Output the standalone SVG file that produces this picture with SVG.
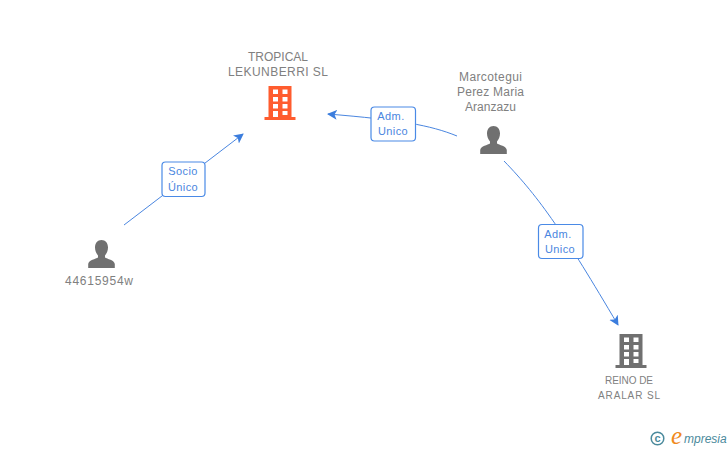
<svg xmlns="http://www.w3.org/2000/svg" width="728" height="450" viewBox="0 0 728 450">
<style>
text{font-family:"Liberation Sans",Arial,sans-serif}
.n{font-size:12px;fill:#808080;text-anchor:middle}
.r{font-size:10px}
.l{font-size:11px;fill:#4a86e0;text-anchor:middle;letter-spacing:.4px}
.c{fill:none;stroke:#4a86e0;stroke-width:1}
.b{fill:#fff;stroke:#4a8ae6;stroke-width:1.200}
</style>
<defs>
<marker id="a" markerUnits="userSpaceOnUse" markerWidth="12" markerHeight="12" refX="9" refY="5" orient="auto"><path d="M0 0L10 5L0 10L2.500 5Z" fill="#3b7ddd"/></marker>
<symbol id="person" width="28" height="28" viewBox="0 0 28 28"><path d="M14 0c4 0 6.500 3 6.500 7.500c0 3-1.300 6-3 8v2c2 1.500 9.500 2.500 9.800 6.500v4H.7v-4c.3-4 7.800-5 9.800-6.500v-2c-1.700-2-3-5-3-8C7.500 3 10 0 14 0Z" fill="#707070"/></symbol>
<symbol id="building" width="32" height="34" viewBox="0 0 32 34"><path fill-rule="evenodd" d="M4.500 0H27.500V31H31.500V34H.5V31H4.500ZM9 3.500V8H14V3.500ZM18.500 3.500V8H23.500V3.500ZM9 11V15.500H14V11ZM18.500 11V15.500H23.500V11ZM9 18V22.500H14V18ZM18.500 18V22.500H23.500V18ZM9 25V31H14V25ZM18.500 25V29H23.500V25Z"/></symbol>
</defs>
<g id="connectors">
<path class="c" d="M124 225L243 134" marker-end="url(#a)"/>
<path class="c" d="M457 136C430 125 400 120 328 114" marker-end="url(#a)"/>
<path class="c" d="M504 161C540 198 565 235 618 325" marker-end="url(#a)"/>
</g>
<g id="edge-label-1"><rect class="b" x="162" y="162" width="43" height="34.500" rx="3.500"/><text class="l" x="183" y="175">Socio</text><text class="l" x="183" y="191">Único</text></g>
<g id="edge-label-2"><rect class="b" x="371" y="107" width="44.500" height="34" rx="3.500"/><text class="l" x="391" y="120">Adm.</text><text class="l" x="393" y="135">Unico</text></g>
<g id="edge-label-3"><rect class="b" x="538.500" y="224.500" width="44.500" height="34" rx="3.500"/><text class="l" x="558" y="238">Adm.</text><text class="l" x="560" y="253">Unico</text></g>
<g id="node-tropical"><text class="n" x="278" y="61" textLength="60">TROPICAL</text><text class="n" x="278" y="76" textLength="100">LEKUNBERRI SL</text><use href="#building" x="264" y="86" fill="#ff5c2e"/></g>
<g id="node-marcotegui"><text class="n" x="490.500" y="81" textLength="63">Marcotegui</text><text class="n" x="490.500" y="96" textLength="67">Perez Maria</text><text class="n" x="490.500" y="111" textLength="51">Aranzazu</text><use href="#person" x="479.500" y="126"/></g>
<g id="node-44615954w"><use href="#person" x="87.500" y="240"/><text class="n" x="99" y="285" textLength="68">44615954w</text></g>
<g id="node-reino"><use href="#building" x="615" y="334" fill="#707070"/><text class="n r" x="629" y="384" textLength="48">REINO DE</text><text class="n r" x="629" y="399" textLength="62">ARALAR SL</text></g>
<g id="logo"><circle cx="657.500" cy="438.500" r="6.300" fill="none" stroke="#4b8a9c" stroke-width="1.500"/><text x="657.500" y="442" font-size="11" font-weight="bold" fill="#4b8a9c" text-anchor="middle">c</text><text x="671" y="444" font-size="25" font-style="italic" fill="#f08a1d" style="font-family:'Liberation Serif',serif">e</text><text x="684" y="443" font-size="12" font-style="italic" fill="#4b8a9c">mpresia</text></g>
</svg>
